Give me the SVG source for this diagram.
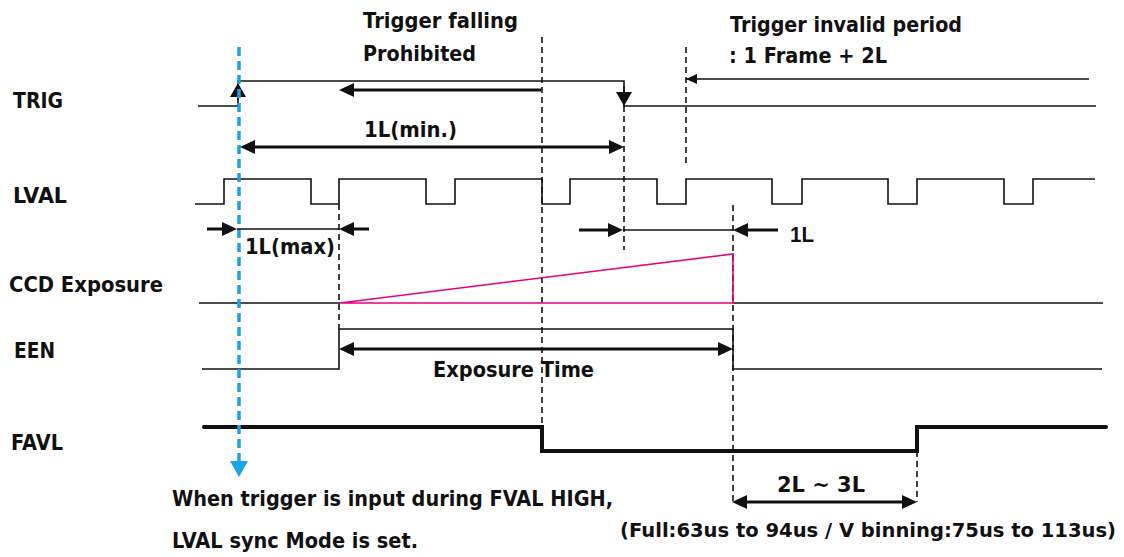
<svg xmlns="http://www.w3.org/2000/svg" width="1124" height="557" viewBox="0 0 1124 557">
<style>
text{font-family:"DejaVu Sans","Liberation Sans",sans-serif;font-weight:bold;font-size:21.5px;fill:#111}
.ar{font-family:"Liberation Sans",Arial,sans-serif;font-size:22px}
.sm{font-size:19.5px}
.sig{fill:none;stroke:#111;stroke-width:1.6}
.thick{fill:none;stroke:#111;stroke-width:4;stroke-linecap:round;stroke-linejoin:miter}
.dash{fill:none;stroke:#111;stroke-width:1.6;stroke-dasharray:6,4}
.pink{fill:none;stroke:#E4007F;stroke-width:1.6}
.blue{fill:none;stroke:#1AA3E8;stroke-width:3.5;stroke-dasharray:9,5}
.arw{fill:none;stroke:#111;stroke-width:3}
.thin{fill:none;stroke:#111;stroke-width:1.4}
</style>
<defs>
<marker id="ah" viewBox="0 0 15 14" refX="7" refY="7" markerWidth="15" markerHeight="14" markerUnits="userSpaceOnUse" orient="auto-start-reverse">
<path d="M0,0 L15,7 L0,14 z" fill="#111"/>
</marker>
<marker id="ahs" viewBox="0 0 11 10" refX="11" refY="5" markerWidth="11" markerHeight="10" markerUnits="userSpaceOnUse" orient="auto">
<path d="M0,0 L11,5 L0,10 z" fill="#111"/>
</marker>
<marker id="edge" viewBox="0 0 14 16" refX="14" refY="8" markerWidth="14" markerHeight="16" markerUnits="userSpaceOnUse" orient="auto">
<path d="M0,0 L14,8 L0,16 z" fill="#111"/>
</marker>
</defs>
<rect width="1124" height="557" fill="#fff"/>

<g id="guides">
<path class="dash" d="M542,37 V427"/>
<path class="dash" d="M624,106 V250"/>
<path class="dash" d="M686,47 V167"/>
<path class="dash" d="M733,205 V505"/>
<path class="dash" d="M339,204 V329"/>
<path class="dash" d="M917,451 V502"/>
</g>

<g id="trig">
<text x="13" y="108" textLength="50" lengthAdjust="spacingAndGlyphs">TRIG</text>
<path class="sig" d="M198,106 H238 V81 H624 V106 H1096"/>
<path class="sig" d="M238,100 V83" marker-end="url(#edge)"/>
<path class="sig" d="M624,86 V106" marker-end="url(#edge)"/>
</g>

<g id="lval">
<text x="13" y="203" textLength="54" lengthAdjust="spacingAndGlyphs">LVAL</text>
<path class="sig" d="M195,204 H224 V179 H311 V204 H339 V179 H426 V204 H455 V179 H542 V204 H570 V179 H657 V204 H686 V179 H772 V204 H802 V179 H888 V204 H917 V179 H1004 V204 H1033 V179 H1095"/>
</g>

<g id="ccd">
<text x="9" y="292" textLength="154" lengthAdjust="spacingAndGlyphs">CCD Exposure</text>
<path class="sig" d="M199,303 H340 M733,303 H1103"/>
<path class="pink" d="M340,303 L733,254 V303 H340"/>
</g>

<g id="een">
<text x="14" y="358" textLength="41" lengthAdjust="spacingAndGlyphs">EEN</text>
<path class="sig" d="M202,369 H339 V329 H733 V369 H1102"/>
</g>

<g id="favl">
<text x="11" y="450" textLength="52" lengthAdjust="spacingAndGlyphs">FAVL</text>
<path class="thick" d="M204,427 H542 V451 H917 V427 H1106"/>
</g>

<g id="trigger-line">
<path class="blue" d="M239,47 V462"/>
<polygon points="239,477 230,461 248,461" fill="#1AA3E8"/>
</g>

<g id="connectors">
<path class="arw" d="M541,90 H347" marker-end="url(#ah)"/>
<path class="arw" d="M248,147 H616" marker-start="url(#ah)" marker-end="url(#ah)"/>
<path class="thin" d="M1089,79 H686" marker-end="url(#ahs)"/>
<path class="arw" d="M207,229 H229" marker-end="url(#ah)"/>
<path class="thin" d="M237,229 H339"/>
<path class="arw" d="M369,229 H347" marker-end="url(#ah)"/>
<path class="arw" d="M579,230 H615" marker-end="url(#ah)"/>
<path class="thin" d="M623,230 H733"/>
<path class="arw" d="M778,230 H741" marker-end="url(#ah)"/>
<path class="arw" d="M347,349 H725" marker-start="url(#ah)" marker-end="url(#ah)"/>
<path class="arw" d="M740,502 H909" marker-start="url(#ah)" marker-end="url(#ah)"/>
</g>

<g id="labels">
<text x="363" y="28" textLength="155" lengthAdjust="spacingAndGlyphs">Trigger falling</text>
<text x="363" y="61" textLength="113" lengthAdjust="spacingAndGlyphs">Prohibited</text>
<text x="730" y="32" textLength="232" lengthAdjust="spacingAndGlyphs">Trigger invalid period</text>
<text x="729" y="63" textLength="158" lengthAdjust="spacingAndGlyphs">: 1 Frame + 2L</text>
<text x="364" y="137" textLength="93" lengthAdjust="spacingAndGlyphs">1L(min.)</text>
<text x="245" y="254" textLength="90" lengthAdjust="spacingAndGlyphs">1L(max)</text>
<text class="ar" x="790" y="242" textLength="24" lengthAdjust="spacingAndGlyphs">1L</text>
<text x="433" y="377" textLength="161" lengthAdjust="spacingAndGlyphs">Exposure Time</text>
<text x="777" y="492" textLength="88" lengthAdjust="spacingAndGlyphs">2L ~ 3L</text>
<text x="172" y="506" textLength="441" lengthAdjust="spacingAndGlyphs">When trigger is input during FVAL HIGH,</text>
<text x="172" y="548" textLength="246" lengthAdjust="spacingAndGlyphs">LVAL sync Mode is set.</text>
<text class="sm" x="620" y="537" textLength="496" lengthAdjust="spacingAndGlyphs">(Full:63us to 94us / V binning:75us to 113us)</text>
</g>
</svg>
